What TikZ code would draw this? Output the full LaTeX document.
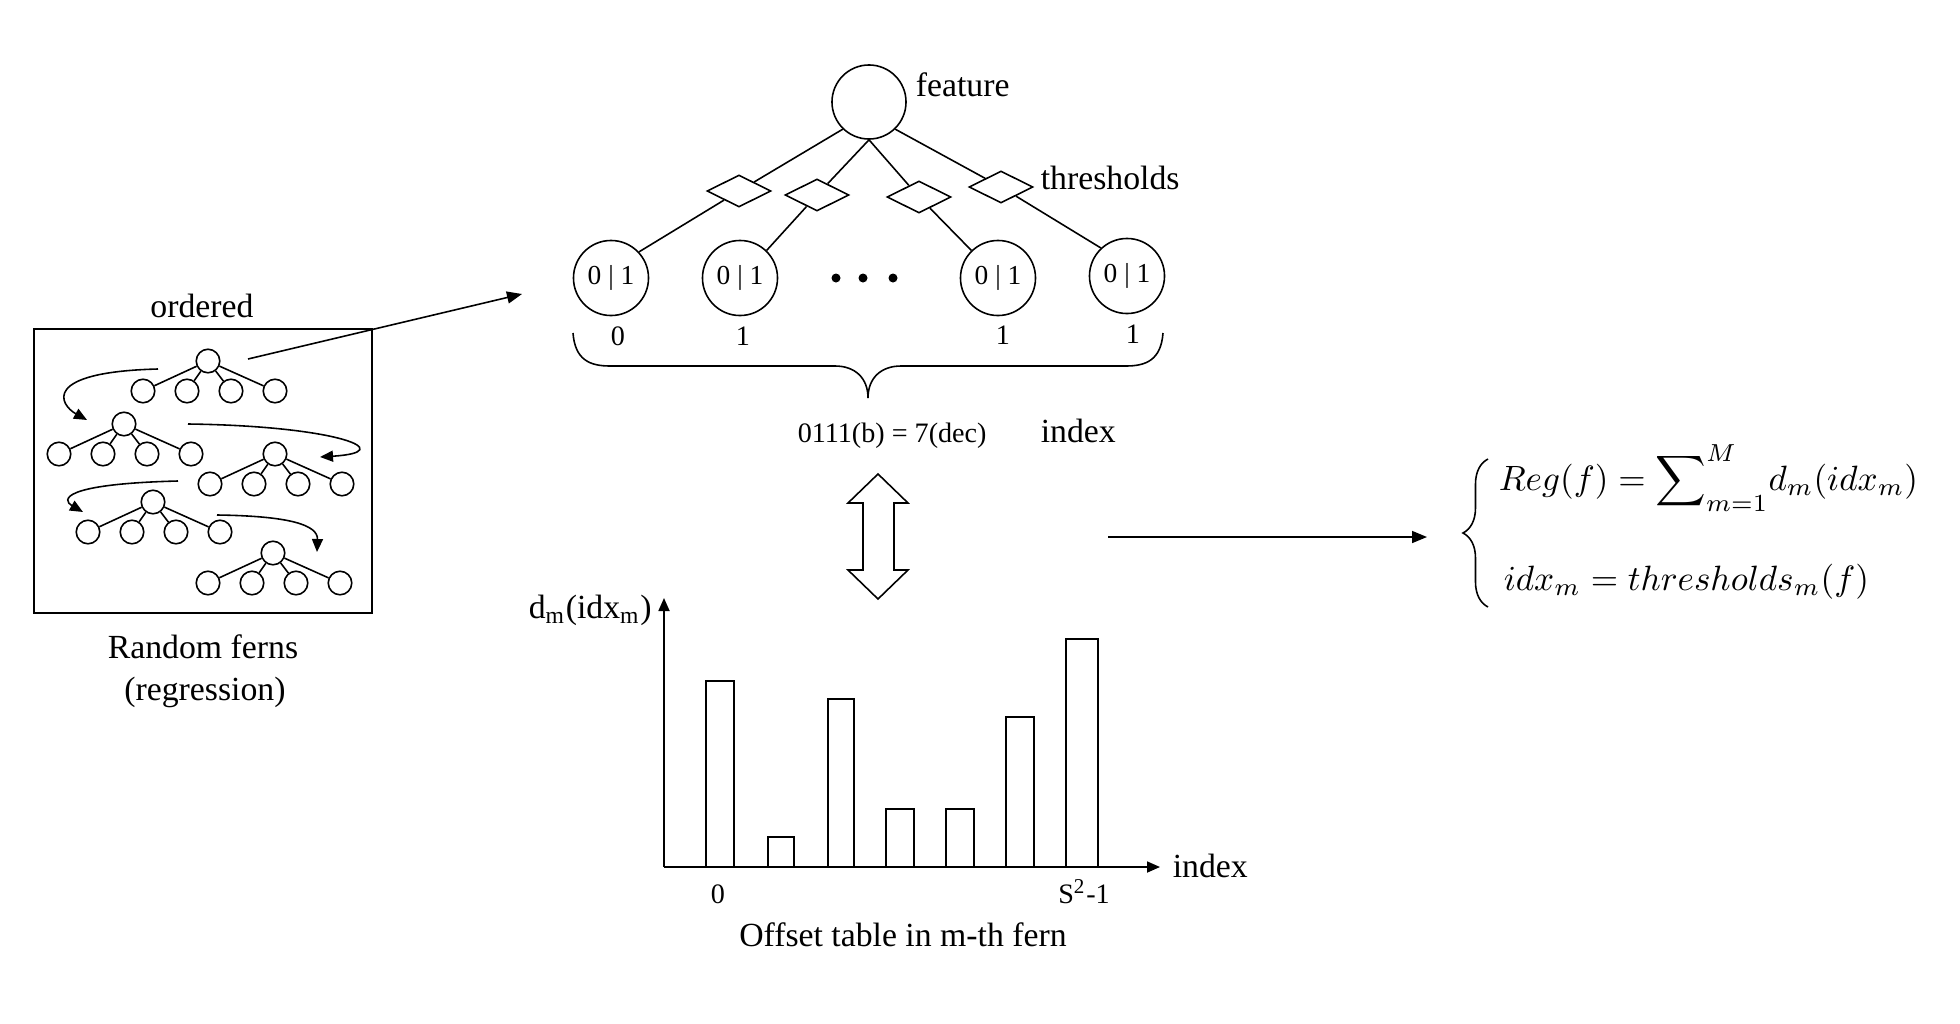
\documentclass[tikz,border=0pt]{standalone}
\usepackage{fontspec}
\setmainfont{Liberation Serif}
\usepackage{amsmath}
\usetikzlibrary{arrows.meta,shapes.geometric,calc,decorations.pathreplacing}
\newcommand{\minifern}[3]{%
  \node[sc] (#1r) at (#2,#3) {};
  \foreach \i/\dx in {1/-65,2/-21,3/23,4/67}{%
    \node[sc] (#1\i) at ({#2+\dx},{#3+30}) {};
    \draw (#1r) -- (#1\i);
  }%
}
\begin{document}
\begin{tikzpicture}[x=0.01cm,y=-0.01cm,line width=0.45pt,
  big/.style={circle,draw,minimum size=0.74cm,inner sep=0pt},
  leaf/.style={circle,draw,minimum size=0.75cm,inner sep=0pt,font=\fontsize{7.8}{9}\selectfont},
  thr/.style={diamond,draw,fill=white,minimum width=0.64cm,minimum height=0.32cm,inner sep=0pt,aspect=2},
  sc/.style={circle,draw,minimum size=0.235cm,inner sep=0pt},
  dot/.style={circle,fill,minimum size=0.09cm,inner sep=0pt},
  lbl/.style={font=\fontsize{9.6}{11.5}\selectfont,inner sep=0pt},
  sm/.style={font=\fontsize{8}{9.6}\selectfont,inner sep=0pt},
  eq/.style={font=\fontsize{10}{12}\selectfont,inner sep=0pt},
  tip/.style={-{Triangle[length=0.13cm,width=0.11cm]}},
  bigtip/.style={-{Triangle[length=0.15cm,width=0.12cm]}},
  barbox/.style={draw,line width=0.5pt}
]
\useasboundingbox (0,0) rectangle (1960,1024);

% ---------- left box with random ferns ----------
\node[draw,line width=0.5pt,minimum width=3.38cm,minimum height=2.84cm,inner sep=0pt] (box) at (203,471) {};
\node[lbl,anchor=base] (ordered) at (202,317) {ordered};
\node[lbl,anchor=base] (rf1) at (203,658) {Random ferns};
\node[lbl,anchor=base] (rf2) at (205,700) {(regression)};

\minifern{tA}{208}{361}
\minifern{tB}{124}{424}
\minifern{tC}{275}{454}
\minifern{tD}{153}{502}
\minifern{tE}{273}{553}

\coordinate (a1s) at (158,369); \coordinate (a1e) at (87,420);
\coordinate (a2s) at (188,424); \coordinate (a2e) at (320,457);
\coordinate (a3s) at (178,481); \coordinate (a3e) at (83,512);
\coordinate (a4s) at (217,515); \coordinate (a4e) at (317,552);
\draw[tip] (a1s) .. controls (40,372) and (60,405) .. (a1e);
\draw[tip] (a2s) .. controls (340,426) and (400,452) .. (a2e);
\draw[tip] (a3s) .. controls (60,484) and (62,500) .. (a3e);
\draw[tip] (a4s) .. controls (290,516) and (318,525) .. (a4e);

\coordinate (outS) at (248,359);
\coordinate (outE) at (522,294);
\draw[bigtip] (outS) -- (outE);

% ---------- fern structure ----------
\node[big] (feat) at (869,102) {};
\node[lbl,anchor=base west] (featl) at (915,96) {feature};

\node[leaf] (l1) at (611,278) {0 | 1};
\node[leaf] (l2) at (740,278) {0 | 1};
\node[leaf] (l3) at (998,278) {0 | 1};
\node[leaf] (l4) at (1127,276) {0 | 1};

\node[thr] (d1) at (739,191) {};
\node[thr] (d2) at (817,195) {};
\node[thr] (d3) at (919,197) {};
\node[thr] (d4) at (1001,187) {};
\node[lbl,anchor=base west] (thrl) at (1040,189) {thresholds};

\draw (feat.226) -- (d1); \draw (d1) -- (l1.43);
\draw (feat.south) -- (d2); \draw (d2) -- (l2.46);
\draw (feat.south) -- (d3); \draw (d3) -- (l3.134);
\draw (feat.-46) -- (d4); \draw (d4) -- (l4.133);

\node[dot] (p1) at (836,278) {};
\node[dot] (p2) at (863,278) {};
\node[dot] (p3) at (893,278) {};

\node[sm,anchor=base] (b1) at (618,345) {0};
\node[sm,anchor=base] (b2) at (743,345) {1};
\node[sm,anchor=base] (b3) at (1003,344) {1};
\node[sm,anchor=base] (b4) at (1133,343) {1};

\coordinate (brL) at (573,333);
\coordinate (brT) at (868,398);
\coordinate (brR) at (1163,333);
\draw (brL) .. controls (575,360) and (590,366) .. (610,366) -- (835,366)
      .. controls (855,366) and (868,378) .. (brT);
\draw (brT) .. controls (868,378) and (881,366) .. (901,366) -- (1126,366)
      .. controls (1146,366) and (1161,360) .. (brR);

\node[sm,anchor=base west] (bin) at (797,442) {0111(b) = 7(dec)};
\node[lbl,anchor=base west] (idx) at (1040,442) {index};

% ---------- double arrow ----------
\draw (878,474) -- (908,503) -- (894,503) -- (894,570) -- (908,570) -- (878,599)
      -- (848,570) -- (863,570) -- (863,503) -- (848,503) -- cycle;

% ---------- offset table chart ----------
\coordinate (org) at (664,867);
\coordinate (yend) at (664,598);
\coordinate (xend) at (1160,867);
\draw[tip,line width=0.5pt] (org) -- (yend);
\draw[tip,line width=0.5pt] (org) -- (xend);
\node[lbl,anchor=base west] (ylab) at (528,618) {d\textsubscript{m}(idx\textsubscript{m})};
\node[lbl,anchor=base west] (xlab) at (1172,877) {index};

\foreach \xa/\xb/\yt in {706/734/681,768/794/837,828/854/699,886/914/809,946/974/809,1006/1034/717,1066/1098/639}{
  \draw[barbox] (\xa,867) rectangle (\xb,\yt);
}
\node[sm,anchor=base] (zero) at (718,903) {0};
\node[sm,anchor=base] (send) at (1084,903) {S\textsuperscript{2}-1};
\node[lbl,anchor=base] (caption) at (903,946) {Offset table in m-th fern};

% ---------- result ----------
\coordinate (rs) at (1108,537);
\coordinate (re) at (1427,537);
\draw[bigtip] (rs) -- (re);
\draw[decorate,decoration={brace,amplitude=0.25cm}] (1488,607) -- (1488,459);
\node[eq,anchor=base west] (eq1) at (1498,490) {$\displaystyle Reg(f)=\sum\nolimits_{m=1}^{M}\! d_m(idx_m)$};
\node[eq,anchor=base west] (eq2) at (1503,590) {$idx_m=thresholds_m(f)$};

\end{tikzpicture}
\end{document}
